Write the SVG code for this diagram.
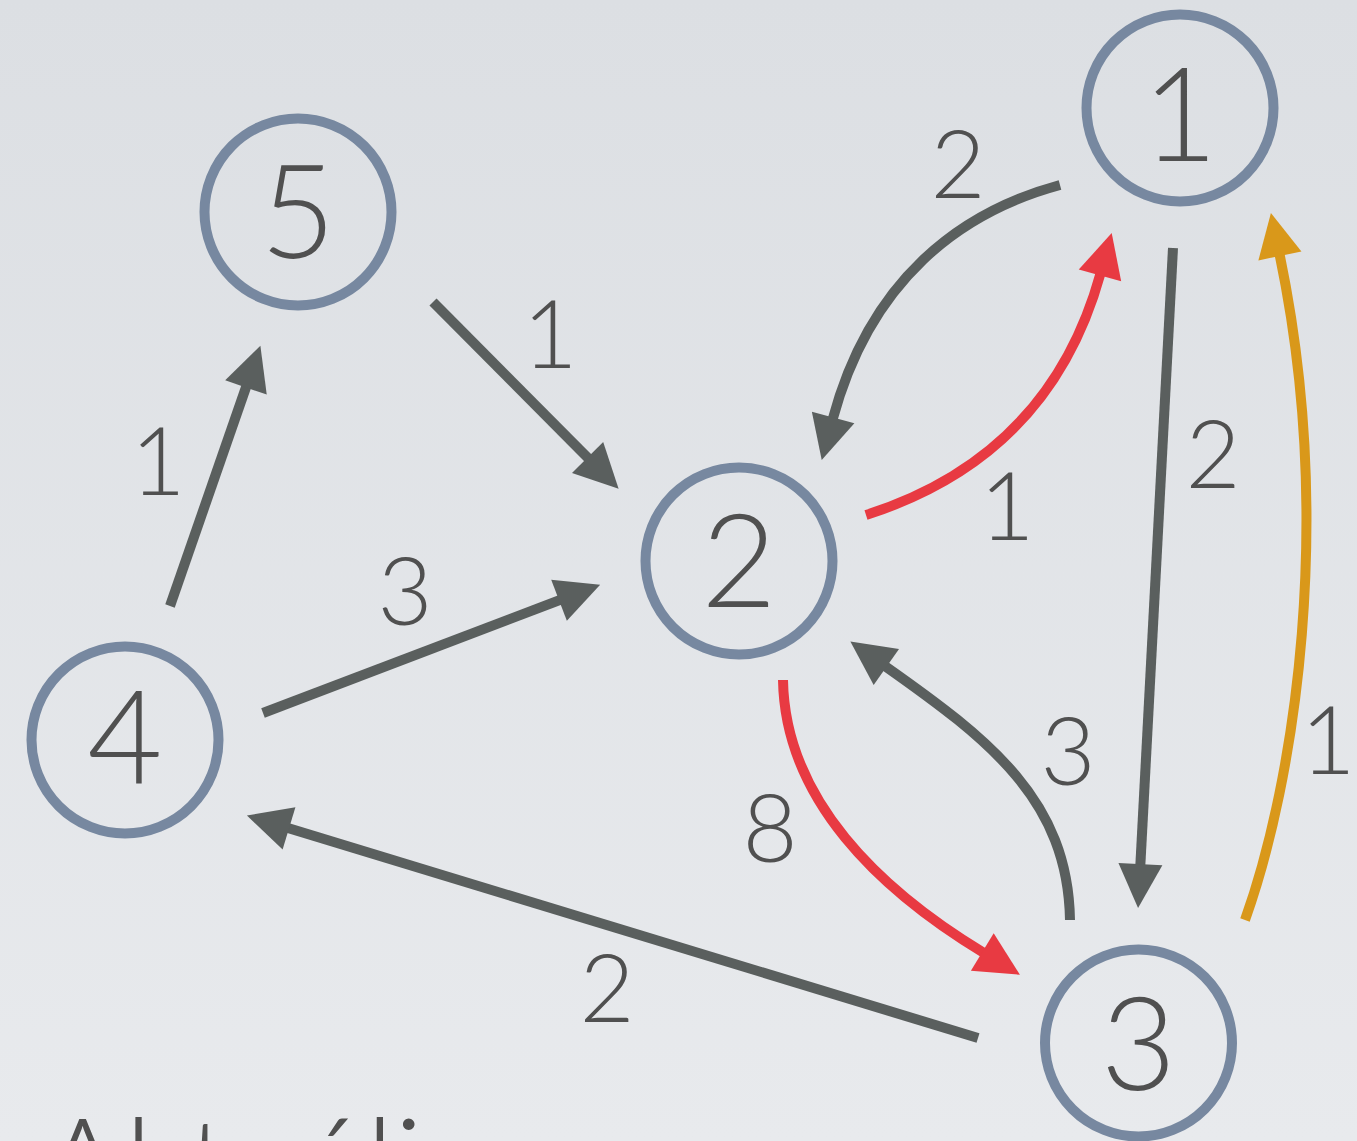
<svg xmlns="http://www.w3.org/2000/svg" width="1357" height="1141" viewBox="0 0 1357 1141">
<defs>
<linearGradient id="bg" x1="0" y1="0" x2="0" y2="1">
<stop offset="0" stop-color="#dcdfe3"/>
<stop offset="1" stop-color="#e8eaed"/>
</linearGradient>
<marker id="ag" markerUnits="userSpaceOnUse" markerWidth="50" markerHeight="50" viewBox="-2 -25 50 50" refX="2" refY="0" orient="auto"><path d="M0,-22 L44,0 L0,22z" fill="#5a5f5e"/></marker>
<marker id="ar" markerUnits="userSpaceOnUse" markerWidth="50" markerHeight="50" viewBox="-2 -25 50 50" refX="2" refY="0" orient="auto"><path d="M0,-22 L44,0 L0,22z" fill="#e83a42"/></marker>
<marker id="ao" markerUnits="userSpaceOnUse" markerWidth="50" markerHeight="50" viewBox="-2 -25 50 50" refX="2" refY="0" orient="auto"><path d="M0,-22 L44,0 L0,22z" fill="#d9981a"/></marker>
</defs>
<style>
.node circle{fill:none;stroke:#7788a0;stroke-width:10}
.nl{font-family:Lato,"Open Sans","Liberation Sans",sans-serif;font-weight:300;font-size:130px;fill:#505050;text-anchor:middle}
.el{font-family:Lato,"Open Sans","Liberation Sans",sans-serif;font-weight:300;font-size:95px;fill:#505050;text-anchor:middle}
.e{fill:none;stroke-width:10}
.g{stroke:#5a5f5e;marker-end:url(#ag)}
.r{stroke:#e83a42;marker-end:url(#ar)}
.o{stroke:#d9981a;marker-end:url(#ao)}
</style>
<rect width="1357" height="1141" fill="url(#bg)"/>
<g id="connectors">
<path class="e g" d="M433,302 L589,459"/>
<path class="e g" d="M170,606 L246.6,385.5"/>
<path class="e g" d="M263,713 L560.9,599.6"/>
<path class="e g" d="M978,1038 L287.1,827.8"/>
<path class="e g" d="M1060,185 C960,212 870,280 832.6,419.5"/>
<path class="e r" d="M866,515 C960,485 1060,420 1100.5,273.5"/>
<path class="e g" d="M1173,248 L1140.3,866.1"/>
<path class="e o" d="M1245,920 C1295,780 1335,520 1279.5,254"/>
<path class="e r" d="M783,680 C785,800 880,890 984,953"/>
<path class="e g" d="M1070,920 C1068,800 990,740 884.7,665.8"/>
</g>
<g id="edge-labels">
<text class="el" x="958" y="198">2</text>
<text class="el" x="550" y="368">1</text>
<text class="el" x="158" y="495">1</text>
<text class="el" x="405" y="625">3</text>
<text class="el" x="1007" y="540">1</text>
<text class="el" x="1213" y="488">2</text>
<text class="el" x="1068" y="785">3</text>
<text class="el" x="1328" y="774">1</text>
<text class="el" x="770" y="862">8</text>
<text class="el" x="607" y="1022">2</text>
</g>
<g id="node1" class="node"><circle cx="1180" cy="108" r="93.5"/><text class="nl" x="1180" y="161">1</text></g>
<g id="node2" class="node"><circle cx="739" cy="561" r="93.5"/><text class="nl" x="739" y="607">2</text></g>
<g id="node3" class="node"><circle cx="1138.5" cy="1043" r="93.5"/><text class="nl" x="1138.5" y="1090">3</text></g>
<g id="node4" class="node"><circle cx="125" cy="740" r="93.5"/><text class="nl" x="125" y="784">4</text></g>
<g id="node5" class="node"><circle cx="298" cy="212" r="93.5"/><text class="nl" x="298" y="258">5</text></g>
<text class="nl" x="40" y="1212" style="text-anchor:start">Aktuális</text>
</svg>
